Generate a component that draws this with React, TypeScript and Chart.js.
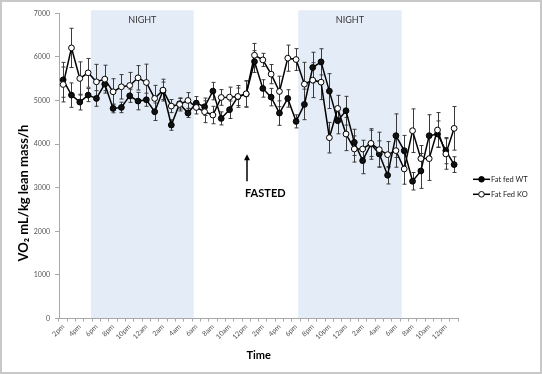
import React, { useEffect, useRef } from "react";
import { Chart, registerables } from "chart.js";

Chart.register(...registerables);

const timeLabels = [
  "2pm", "3pm", "4pm", "5pm", "6pm", "7pm", "8pm", "9pm", "10pm", "11pm", "12am", "1am",
  "2am", "3am", "4am", "5am", "6am", "7am", "8am", "9am", "10am", "11am", "12pm", "1pm",
  "2pm", "3pm", "4pm", "5pm", "6pm", "7pm", "8pm", "9pm", "10pm", "11pm", "12am", "1am",
  "2am", "3am", "4am", "5am", "6am", "7am", "8am", "9am", "10am", "11am", "12pm", "1pm",
];

const wtValues = [
  5475, 5124, 4964, 5124, 5048, 5376, 4819, 4842, 5109, 4987, 5018, 4743,
  5223, 4438, 4926, 4712, 4941, 4857, 5216, 4590, 4789, 5086, 5147, 5894,
  5277, 5078, 4712, 5048, 4522, 4911, 5757, 5887, 5216, 4537, 4766, 4041,
  3622, 4003, 3775, 3287, 4194, 3851, 3149, 3386, 4194, 4232, 3851, 3531,
];
const wtErrors = [
  400, 280, 180, 150, 180, 150, 100, 120, 150, 200, 150, 200,
  200, 120, 120, 100, 150, 200, 200, 150, 200, 200, 300, 250,
  200, 200, 280, 200, 150, 350, 350, 300, 400, 300, 330, 300,
  300, 350, 300, 200, 500, 350, 200, 400, 480, 300, 300, 180,
];

const koValues = [
  5368, 6207, 5506, 5635, 5429, 5490, 5200, 5315, 5345, 5521, 5414, 5048,
  5239, 4873, 4911, 5002, 4842, 4743, 4667, 5071, 5078, 5094, 5155, 6039,
  5932, 5605, 5208, 5971, 5940, 5376, 5467, 5421, 4148, 4819, 4232, 3889,
  3889, 4018, 3874, 3759, 3851, 3431, 4308, 3668, 3668, 4324, 3775, 4362,
];
const koErrors = [
  400, 450, 380, 330, 400, 320, 300, 280, 300, 280, 420, 300,
  250, 150, 150, 180, 150, 250, 200, 180, 230, 250, 300, 270,
  150, 220, 350, 300, 250, 500, 400, 400, 350, 300, 380, 300,
  200, 300, 400, 300, 380, 350, 500, 300, 500, 400, 350, 500,
];

const seriesNames = ["Fat fed WT", "Fat Fed KO"];
const nightRanges = [
  [3.35, 15.69],
  [28.26, 40.69],
];
const nightLabel = "NIGHT";
const fastedLabel = "FASTED";
const fastedIndex = 22.1;
const fastedLabelIndex = 24.3;
const arrowFrom = 3150;
const arrowTo = 3770;
const fastedLabelValue = 2860;
const yTitle = "VO₂ mL/kg lean mass/h";
const xTitle = "Time";

const FONT = "Lato, 'Open Sans', sans-serif";

const annotations = {
  id: "annotations",
  beforeDraw(chart: any) {
    const { ctx, chartArea, scales } = chart;
    const x = scales.x;
    ctx.save();
    ctx.fillStyle = "#e4ecf7";
    nightRanges.forEach(([a, b]) => {
      const x0 = x.getPixelForValue(a);
      const x1 = x.getPixelForValue(b);
      ctx.fillRect(x0, chartArea.top - 3, x1 - x0, chartArea.bottom - chartArea.top + 3);
    });
    ctx.restore();
  },
  beforeDatasetsDraw(chart: any) {
    const { ctx, scales } = chart;
    const y = scales.y;
    const sets = [
      [wtValues, wtErrors],
      [koValues, koErrors],
    ];
    ctx.save();
    ctx.strokeStyle = "#3a3a3a";
    ctx.lineWidth = 1;
    sets.forEach(([vals, errs], di) => {
      const meta = chart.getDatasetMeta(di);
      meta.data.forEach((pt: any, i: number) => {
        const px = Math.round(pt.x) + 0.5;
        const yt = y.getPixelForValue(vals[i] + errs[i]);
        const yb = y.getPixelForValue(vals[i] - errs[i]);
        ctx.beginPath();
        ctx.moveTo(px, yt);
        ctx.lineTo(px, yb);
        ctx.moveTo(px - 2, yt);
        ctx.lineTo(px + 2, yt);
        ctx.moveTo(px - 2, yb);
        ctx.lineTo(px + 2, yb);
        ctx.stroke();
      });
    });
    ctx.restore();
  },
  afterDraw(chart: any) {
    const { ctx, chartArea, scales, width, height } = chart;
    const x = scales.x;
    const y = scales.y;
    ctx.save();
    // NIGHT labels
    ctx.fillStyle = "#333333";
    ctx.font = `9px ${FONT}`;
    ctx.textAlign = "center";
    ctx.textBaseline = "middle";
    nightRanges.forEach(([a, b]) => {
      const cx = (x.getPixelForValue(a) + x.getPixelForValue(b)) / 2;
      ctx.fillText(nightLabel, cx, chartArea.top + 7);
    });
    // arrow
    const ax = x.getPixelForValue(fastedIndex);
    const ay0 = y.getPixelForValue(arrowFrom);
    const ay1 = y.getPixelForValue(arrowTo);
    ctx.strokeStyle = "#000";
    ctx.fillStyle = "#000";
    ctx.lineWidth = 1.5;
    ctx.beginPath();
    ctx.moveTo(ax, ay0);
    ctx.lineTo(ax, ay1 + 3);
    ctx.stroke();
    ctx.beginPath();
    ctx.moveTo(ax, ay1);
    ctx.lineTo(ax - 3, ay1 + 6);
    ctx.lineTo(ax + 3, ay1 + 6);
    ctx.closePath();
    ctx.fill();
    ctx.font = `bold 11px ${FONT}`;
    ctx.fillText(fastedLabel, x.getPixelForValue(fastedLabelIndex), y.getPixelForValue(fastedLabelValue));
    // y title
    ctx.save();
    ctx.translate(24, 193);
    ctx.rotate(-Math.PI / 2);
    ctx.font = `bold 13px ${FONT}`;
    ctx.fillText(yTitle, 0, 0);
    ctx.restore();
    // legend
    const legendY = [179.3, 194.3];
    [0, 1].forEach((i) => {
      const ly = legendY[i];
      ctx.strokeStyle = "#000";
      ctx.lineWidth = 1.5;
      ctx.beginPath();
      ctx.moveTo(473, ly);
      ctx.lineTo(490, ly);
      ctx.stroke();
      ctx.beginPath();
      ctx.arc(481.5, ly, 2.8, 0, Math.PI * 2);
      ctx.fillStyle = i === 0 ? "#000" : "#fff";
      ctx.fill();
      ctx.lineWidth = 1;
      ctx.stroke();
      ctx.fillStyle = "#222";
      ctx.font = `7.5px ${FONT}`;
      ctx.textAlign = "left";
      ctx.fillText(seriesNames[i], 491, ly + 0.5);
    });
    // frame
    ctx.strokeStyle = "#c8c8c8";
    ctx.lineWidth = 2;
    ctx.strokeRect(1, 1, width - 2, height - 2);
    ctx.restore();
  },
};

export default function App() {
  const ref = useRef<HTMLCanvasElement | null>(null);
  useEffect(() => {
    if (!ref.current) return;
    const chart = new Chart(ref.current, {
      type: "line",
      data: {
        labels: timeLabels,
        datasets: [
          {
            label: seriesNames[0],
            data: wtValues,
            borderColor: "#000",
            borderWidth: 1.5,
            backgroundColor: "#111",
            pointBackgroundColor: "#111",
            pointBorderColor: "#000",
            pointBorderWidth: 1,
            pointRadius: 2.9,
            tension: 0,
            order: 1,
          },
          {
            label: seriesNames[1],
            data: koValues,
            borderColor: "#000",
            borderWidth: 1.5,
            backgroundColor: "#fff",
            pointBackgroundColor: "#fff",
            pointBorderColor: "#000",
            pointBorderWidth: 1,
            pointRadius: 2.9,
            tension: 0,
            order: 0,
          },
        ],
      },
      options: {
        responsive: false,
        animation: false,
        devicePixelRatio: 1,
        layout: { padding: { top: 13.3, right: 83.7, left: 0, bottom: 0 } },
        plugins: {
          legend: { display: false },
          tooltip: { enabled: false },
        },
        scales: {
          x: {
            type: "category",
            offset: true,
            grid: {
              display: true,
              offset: true,
              drawOnChartArea: false,
              drawTicks: true,
              tickLength: 3,
              color: "#a8a8a8",
            },
            border: { display: true, color: "#a8a8a8", width: 1 },
            ticks: {
              autoSkip: false,
              maxRotation: 45,
              minRotation: 45,
              padding: 1,
              color: "#555",
              font: { family: FONT, size: 7 },
              callback: (_v: any, i: number) => (i % 2 === 0 ? timeLabels[i] : ""),
            },
            title: {
              display: true,
              text: xTitle,
              color: "#000",
              font: { family: FONT, size: 11, weight: "bold" },
              padding: { top: 2, bottom: 11.7 },
            },
            afterFit: (scale: any) => {
              scale.height = 55.4;
            },
          },
          y: {
            min: 0,
            max: 7000,
            ticks: {
              stepSize: 1000,
              padding: 5,
              color: "#555",
              font: { family: FONT, size: 7 },
              callback: (v: any) => String(v),
            },
            grid: {
              display: true,
              drawOnChartArea: false,
              drawTicks: true,
              tickLength: 4,
              color: "#a8a8a8",
            },
            border: { display: true, color: "#a8a8a8", width: 1 },
            afterFit: (scale: any) => {
              scale.width = 59;
            },
          },
        },
      },
      plugins: [annotations],
    });
    return () => chart.destroy();
  }, []);
  return (
    <div style={{ position: "fixed", left: 0, top: 0, width: 542, height: 374, background: "#fff" }}>
      <canvas ref={ref} width={542} height={374} style={{ display: "block" }} />
    </div>
  );
}
